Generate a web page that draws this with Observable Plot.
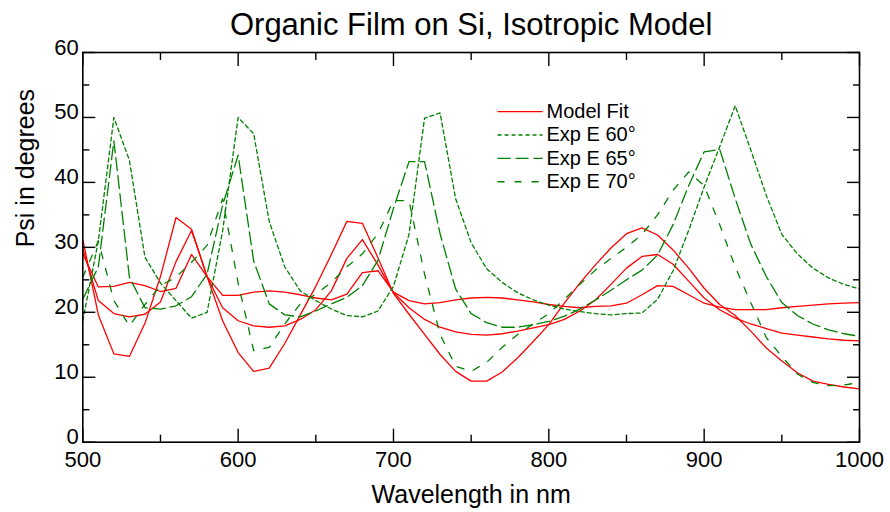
<!DOCTYPE html>
<html>
<head>
<meta charset="utf-8">
<script src="https://cdn.jsdelivr.net/npm/d3@7"></script>
<script src="https://cdn.jsdelivr.net/npm/@observablehq/plot@0.6"></script>
<style>
  html, body { margin: 0; padding: 0; background: #fff; }
  #chart svg { display: block; }
</style>
</head>
<body>
<div id="chart"></div>
<script>
// ---- Data ----
const wavelengths = [500,510,520,530,540,550,560,570,580,590,600,610,620,630,640,650,660,670,680,690,700,710,720,730,740,750,760,770,780,790,800,810,820,830,840,850,860,870,880,890,900,910,920,930,940,950,960,970,980,990,1000];

const fitA = [31.2,19.6,13.6,13.2,18.3,25.5,34.6,32.8,25.5,18.7,13.8,10.9,11.4,15.2,19.6,24.0,28.9,34.0,33.7,28.4,22.9,19.7,16.6,13.5,10.9,9.4,9.4,10.8,13.0,15.5,18.1,21.4,24.5,27.3,29.9,32.1,33.0,31.9,29.6,26.8,23.7,21.2,19.5,17.1,14.5,12.5,10.7,9.4,8.9,8.5,8.2];
const fitB = [29.8,21.8,19.8,19.3,19.7,21.6,27.8,32.6,25.5,20.7,18.7,17.9,17.7,17.9,18.9,20.4,23.3,28.3,31.2,27.3,23.0,20.7,18.9,17.7,17.0,16.6,16.5,16.7,17.1,17.6,18.1,18.9,20.2,21.9,24.3,26.8,28.6,28.9,27.4,24.8,22.2,20.4,19.1,18.2,17.5,16.8,16.5,16.2,15.9,15.7,15.6];
const fitC = [29.0,23.9,24.0,24.6,24.1,23.2,23.7,28.9,25.5,22.6,22.6,23.1,23.3,23.1,22.7,22.2,21.9,22.8,26.1,26.4,23.1,21.8,21.3,21.5,21.9,22.2,22.3,22.2,21.9,21.6,21.2,20.9,20.7,20.9,21.0,21.4,22.7,24.1,24.0,22.7,21.4,20.8,20.4,20.4,20.4,20.7,20.9,21.1,21.3,21.4,21.5];

const exp60 = [18.7,31.0,50.0,43.4,28.5,24.5,21.8,19.1,20.0,32.5,50.0,47.5,34.0,27.0,23.3,21.8,20.5,19.5,19.3,20.2,24.0,32.0,49.9,50.7,37.5,30.7,26.7,24.6,23.0,21.9,21.1,20.5,20.1,19.8,19.6,19.8,19.9,22.0,26.4,32.6,39.3,45.5,51.8,45.0,38.0,32.0,29.0,26.8,25.3,24.3,23.6];
const exp65 = [22.0,27.0,46.4,25.4,20.7,20.5,21.0,22.4,25.9,36.5,44.2,27.9,21.3,19.6,19.3,20.2,21.3,22.3,24.1,28.0,36.0,43.2,43.2,32.1,23.6,19.8,18.4,17.7,17.7,18.1,18.6,19.4,20.5,21.9,23.4,25.0,26.5,28.8,33.5,39.5,44.7,45.1,37.5,30.5,25.5,21.5,19.5,18.2,17.3,16.7,16.3];
const exp70 = [25.4,31.0,21.8,17.9,21.2,24.1,25.4,27.7,30.3,37.5,24.5,14.1,14.6,18.2,21.3,22.8,24.6,27.0,29.0,32.1,37.2,37.2,25.9,16.6,11.7,10.9,12.3,14.6,16.6,18.2,19.8,22.0,24.3,26.5,28.3,30.0,32.0,35.0,38.8,41.6,39.5,33.5,27.0,21.5,16.1,13.2,10.5,9.2,8.7,8.8,9.2];

const xMajorTicks = [500,600,700,800,900,1000];
const xMinorTicks = [550,650,750,850,950];
const yMajorTicks = [0,10,20,30,40,50,60];
const yMinorTicks = [5,15,25,35,45,55];

const legendLabels = ["Model Fit","Exp E 60°","Exp E 65°","Exp E 70°"];
const titleText = "Organic Film on Si, Isotropic Model";
const xLabel = "Wavelength in nm";
const yLabel = "Psi in degrees";

// ---- Styles ----
const RED = "#ff0000";
const GREEN = "#008000";
const FONT = "Liberation Sans, Arial, Helvetica, sans-serif";
const dashes = {"Exp E 60°": "4,3", "Exp E 65°": "13,5", "Exp E 70°": "7,10"};

// ---- Build tables ----
function series(name, values) {
  return wavelengths.map((w, i) => ({wl: w, psi: values[i], name}));
}
const fits = [series("A", fitA), series("B", fitB), series("C", fitC)];
const exps = [series("Exp E 60°", exp60), series("Exp E 65°", exp65), series("Exp E 70°", exp70)];

// legend layout (in data units, top-right area)
const legX1 = 767, legX2 = 796, legTextX = 798.5, legY0 = 50.9, legStep = 3.6;
const legendRows = legendLabels.map((label, i) => ({label, y: legY0 - i * legStep,
  stroke: i === 0 ? RED : GREEN, dash: i === 0 ? null : dashes[label]}));

const marks = [];
// fits
for (const f of fits) marks.push(Plot.line(f, {x: "wl", y: "psi", stroke: RED, strokeWidth: 1.3}));
// experiments
for (const e of exps) marks.push(Plot.line(e, {x: "wl", y: "psi", stroke: GREEN, strokeWidth: 1.3, strokeDasharray: dashes[e[0].name]}));
// legend
for (const r of legendRows) {
  marks.push(Plot.link([r], {x1: () => legX1, x2: () => legX2, y1: "y", y2: "y", stroke: r.stroke, strokeWidth: 1.3, strokeDasharray: r.dash}));
}
marks.push(Plot.text(legendRows, {x: () => legTextX, y: "y", text: "label", textAnchor: "start", fontSize: 20, fill: "black"}));

// axes: inward ticks, labels separately
const noText = () => "";
marks.push(
  Plot.axisX({anchor: "bottom", ticks: xMajorTicks, tickSize: -13, tickPadding: 22, fontSize: 22, label: null, tickFormat: d => String(d), strokeWidth: 1.4}),
  Plot.axisX({anchor: "bottom", ticks: xMinorTicks, tickSize: -7, tickFormat: noText, label: null, strokeWidth: 1.4}),
  Plot.axisX({anchor: "top", ticks: xMajorTicks, tickSize: -13, tickFormat: noText, label: null, strokeWidth: 1.4}),
  Plot.axisX({anchor: "top", ticks: xMinorTicks, tickSize: -7, tickFormat: noText, label: null, strokeWidth: 1.4}),
  Plot.axisY({anchor: "left", ticks: yMajorTicks, tickSize: -13, tickFormat: noText, label: null, strokeWidth: 1.4}),
  Plot.axisY({anchor: "left", ticks: yMajorTicks, tickSize: 0, tickPadding: 4, fontSize: 22, dy: -5, label: null, tickFormat: d => String(d)}),
  Plot.axisY({anchor: "left", ticks: yMinorTicks, tickSize: -7, tickFormat: noText, label: null, strokeWidth: 1.4}),
  Plot.axisY({anchor: "right", ticks: yMajorTicks, tickSize: -13, tickFormat: noText, label: null, strokeWidth: 1.4}),
  Plot.axisY({anchor: "right", ticks: yMinorTicks, tickSize: -7, tickFormat: noText, label: null, strokeWidth: 1.4}),
  Plot.frame({stroke: "black", strokeWidth: 1.6})
);
// titles
marks.push(
  Plot.text([titleText], {frameAnchor: "top", dy: -40, fontSize: 31, fill: "black"}),
  Plot.text([xLabel], {frameAnchor: "bottom", dy: 61, fontSize: 25, fill: "black"}),
  Plot.text([yLabel], {frameAnchor: "left", dx: -57, rotate: -90, fontSize: 25, fill: "black"})
);

const chart = Plot.plot({
  width: 890,
  height: 512,
  marginLeft: 82.3,
  marginRight: 31,
  marginTop: 52,
  marginBottom: 70.3,
  style: {fontFamily: FONT, background: "white", color: "black", overflow: "visible"},
  x: {domain: [500, 1000]},
  y: {domain: [0, 60]},
  marks
});
document.getElementById("chart").appendChild(chart);
</script>
</body>
</html>
